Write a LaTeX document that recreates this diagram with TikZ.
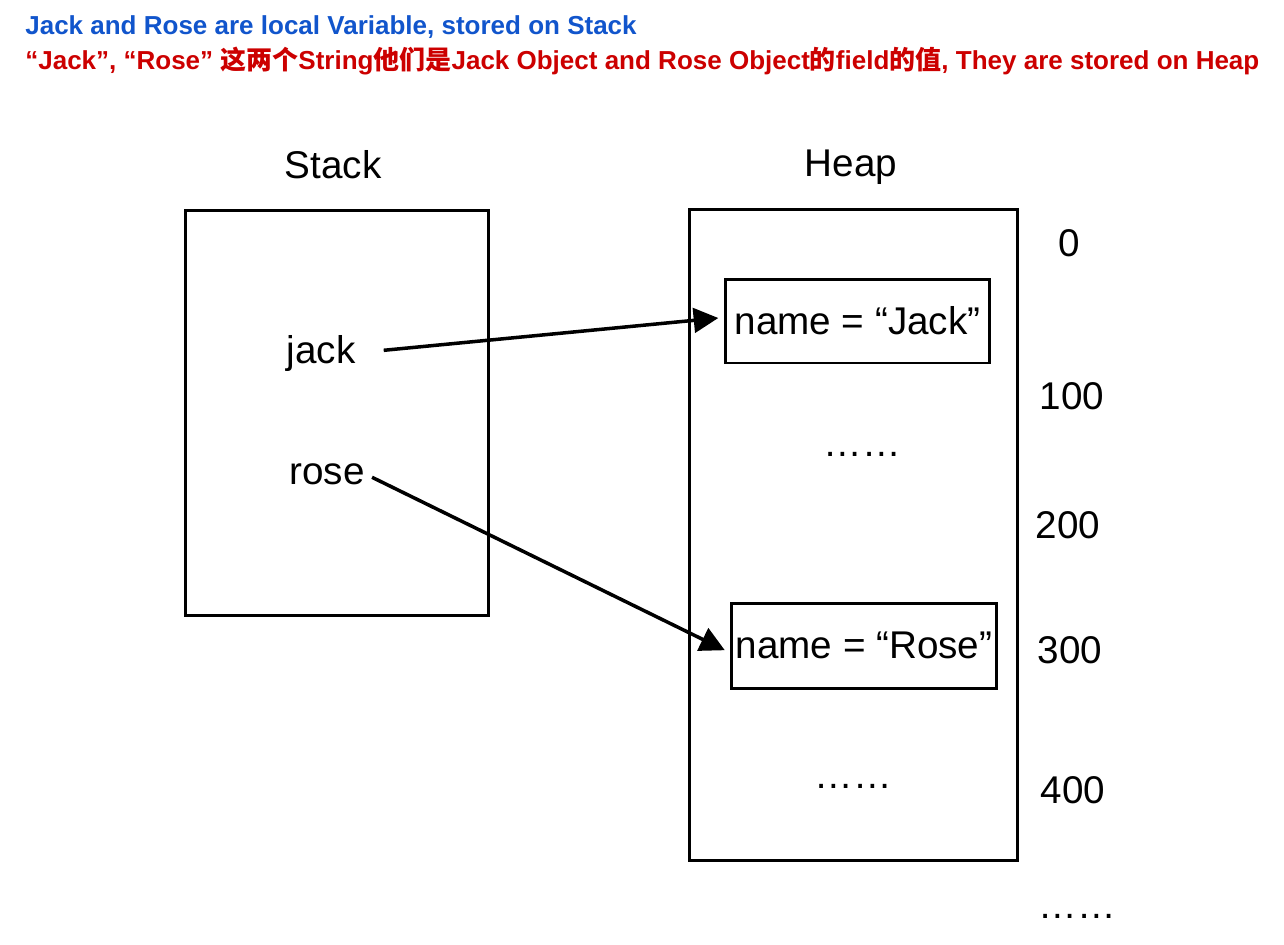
\documentclass[tikz,border=0pt]{standalone}
\usepackage{fontspec}
\setmainfont{Liberation Sans}
\newfontfamily\cjk{Noto Sans CJK SC}
\usetikzlibrary{arrows.meta}
\definecolor{noteblue}{HTML}{1155CC}
\definecolor{notered}{HTML}{CC0000}

\begin{document}
\begin{tikzpicture}[x=0.02cm,y=-0.02cm,
    mem/.style={draw,line width=1.7pt,inner sep=0pt},
    ptr/.style={line width=2pt,-{Triangle[length=14pt,width=14pt]}},
    lbl/.style={font=\fontsize{22}{26}\selectfont,inner sep=0pt},
    note/.style={anchor=base west,inner sep=0pt,font=\fontsize{14.8}{17}\selectfont\bfseries}]
    \useasboundingbox (0,0) rectangle (1284,944);

    % notes on top
    \node[note,text=noteblue] (note1) at (25,34) {Jack and Rose are local Variable, stored on Stack};
    \node[note,text=notered] (note2) at (25,69) {“Jack”, “Rose” {\cjk\bfseries 这两个}String{\cjk\bfseries 他们是}Jack Object and Rose Object{\cjk\bfseries 的}field{\cjk\bfseries 的值}, They are stored on Heap};

    % stack
    \node[lbl,anchor=base] (stacktitle) at (333,178) {Stack};
    \node[mem,minimum width=6.08cm,minimum height=8.12cm] (stack) at (337,413) {};
    \node[lbl,anchor=base] (jackvar) at (321,363) {jack};
    \node[lbl,anchor=base] (rosevar) at (327,484) {rose};

    % heap
    \node[lbl,anchor=base] (heaptitle) at (851,176) {Heap};
    \node[mem,minimum width=6.58cm,minimum height=13.04cm] (heap) at (853.5,535) {};
    \node[mem,lbl,minimum width=5.3cm,minimum height=1.68cm] (jackobj) at (857.5,321) {name = “Jack”};
    \node[mem,lbl,minimum width=5.32cm,minimum height=1.7cm] (roseobj) at (864,645.5) {name = “Rose”};
    \node[lbl,anchor=base] (dots1) at (862,456) {……};
    \node[lbl,anchor=base] (dots2) at (853,788) {……};
    \node[lbl,anchor=base] (dots3) at (1077,918) {……};

    % addresses
    \node[lbl,anchor=base] (addr0) at (1069,256) {0};
    \node[lbl,anchor=base] (addr1) at (1072,409) {100};
    \node[lbl,anchor=base] (addr2) at (1068,538) {200};
    \node[lbl,anchor=base] (addr3) at (1070,663) {300};
    \node[lbl,anchor=base] (addr4) at (1073,803) {400};

    % references
    \draw[ptr,shorten <=16pt,shorten >=3pt] (jackvar.east) -- ([yshift=2pt]jackobj.west);
    \draw[ptr,shorten <=4.5pt,shorten >=3pt] (rosevar.east) -- ([yshift=-4pt]roseobj.west);
\end{tikzpicture}
\end{document}
